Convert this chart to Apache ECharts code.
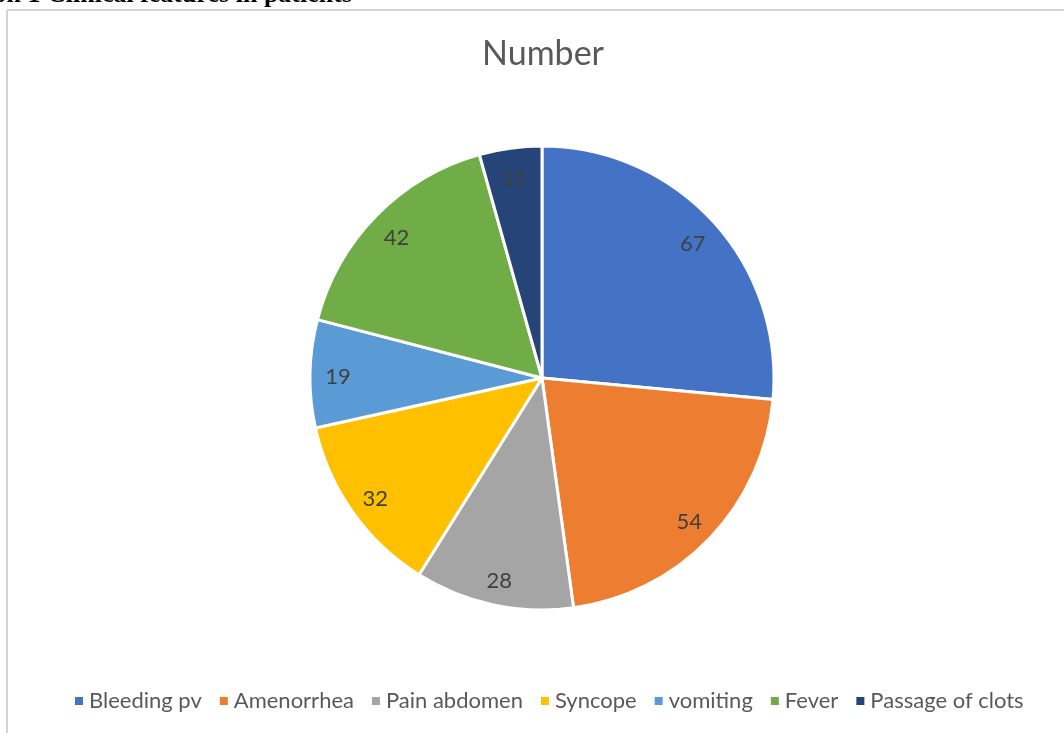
<!DOCTYPE html>
<html>
<head>
<meta charset="utf-8">
<script src="https://cdn.jsdelivr.net/npm/echarts@6/dist/echarts.min.js"></script>
<style>
  html, body { margin: 0; padding: 0; background: #fff; }
  #main { width: 1064px; height: 733px; }
</style>
</head>
<body>
<div id="main"></div>
<script>
// clinical features data
var categories = ['Bleeding pv', 'Amenorrhea', 'Pain abdomen', 'Syncope', 'vomiting', 'Fever', 'Passage of clots'];
var counts = [67, 54, 28, 32, 19, 42, 11];
var colors = ['#4472C4', '#ED7D31', '#A5A5A5', '#FFC000', '#5B9BD5', '#70AD47', '#264478'];

var pieData = categories.map(function (name, i) {
    return { name: name, value: counts[i] };
});

var myChart = echarts.init(document.getElementById('main'));
var option = {
    color: colors,
    animation: false,
    title: {
        text: 'Number',
        left: 538,
        textAlign: 'center',
        top: 32,
        textStyle: { color: '#595959', fontSize: 34, fontWeight: 'normal', fontFamily: 'Lato' }
    },
    legend: {
        data: categories,
        bottom: 16,
        left: 68,
        icon: 'rect',
        itemWidth: 10,
        itemHeight: 10,
        itemGap: 16,
        textStyle: { color: '#595959', fontSize: 22, fontFamily: 'Lato' }
    },
    graphic: [
        { type: 'line', shape: { x1: 7, y1: 10, x2: 1064, y2: 10 }, style: { stroke: '#d4d4d4', lineWidth: 2 } },
        { type: 'line', shape: { x1: 7, y1: 10, x2: 7, y2: 733 }, style: { stroke: '#d4d4d4', lineWidth: 2 } },
        {
            type: 'text', x: 352, y: 8.5,
            style: {
                text: 'Graph 1 Clinical features in patients', fill: '#000',
                font: 'bold 26px "Liberation Serif"', align: 'right', verticalAlign: 'bottom'
            }
        }
    ],
    series: [
        {
            name: 'Number',
            type: 'pie',
            center: [542, 378],
            radius: [0, 232],
            startAngle: 90,
            clockwise: true,
            itemStyle: { borderColor: '#fff', borderWidth: 3 },
            label: { show: false },
            labelLine: { show: false },
            data: pieData
        },
        {
            // transparent ring only used to place the value labels
            name: 'labels',
            type: 'pie',
            center: [542, 378],
            radius: [170, 232],
            startAngle: 90,
            clockwise: true,
            silent: true,
            itemStyle: { color: 'rgba(0,0,0,0)', borderWidth: 0 },
            label: {
                show: true,
                position: 'inside',
                formatter: '{c}',
                color: '#404040',
                fontSize: 22,
                fontFamily: 'Lato',
                offset: [0, 3]
            },
            labelLine: { show: false },
            data: pieData
        }
    ]
};
myChart.setOption(option);
</script>
</body>
</html>
